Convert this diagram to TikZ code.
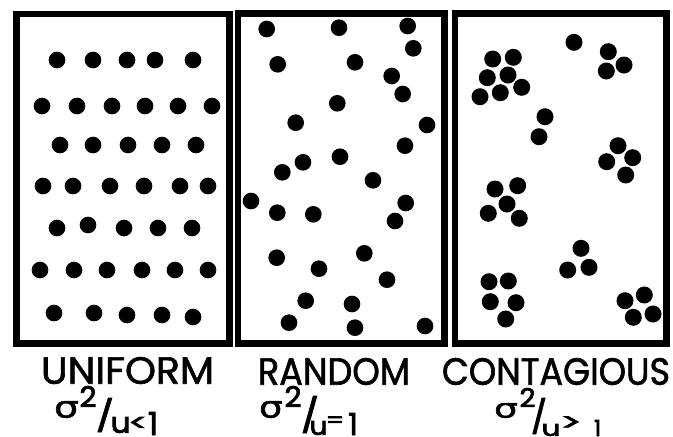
\documentclass[tikz,border=0pt]{standalone}
\usepackage{fontspec}
\setmainfont{Poppins}
\newfontfamily\titlefont{Poppins}[FakeBold=1.6]
\newfontfamily\formfont{Poppins}[FakeBold=2.6]
\newfontfamily\sigfont{DejaVu Sans}[FakeBold=1.5]
\newdimen\pxu \pxu=0.03cm
\newcommand{\fitglyph}[3]{\resizebox*{#1\pxu}{#2\pxu}{#3}}
\newcommand{\fith}[2]{\resizebox*{!}{#1\pxu}{#2}}
\begin{document}
\begin{tikzpicture}[x=0.03cm, y=-0.03cm,
  panel/.style={draw=black, line width=0.195cm},
  dotfill/.style={fill=black},
  lbl/.style={inner sep=0pt, outer sep=0pt, anchor=center}]
\useasboundingbox (0,0) rectangle (673,436);
\fill[white] (0,0) rectangle (673,436);
% panels
\draw[panel] (16.5,14) rectangle (229.5,343.5);
\draw[panel] (238,13.5) rectangle (444.5,343.5);
\draw[panel] (455,13.5) rectangle (666.5,343.5);
% uniform
\foreach \x/\y in {57/60,93/60,127/60,155/60,193/60,
  42/106,77/106,112/106,145/106,178/106,212/106,
  60/145,93/145,128/145,162/145,196/145,
  43/186,73/186,110/186,144/186,180/186,208/186,
  57/228,88/225,124/228,158/228,192/228,
  40/270,74/270,107/270,142/270,175/270,208/270,
  54/313,94/313,127/315,162/315,193/317}
  \fill[dotfill] (\x,\y) circle[radius=0.25cm];
% random
\foreach \x/\y in {266.7/29,339/27.7,407.7/26,413.3/48.3,277.7/64.3,355/62.3,
  391.7/76,402.7/94,337.3/103.3,295.7/122.7,427/125,405/145.7,303/162.3,
  282.3/172.3,340/156.7,373/180.3,251/201,277.3/212.7,313.3/214.3,405.7/203,
  395/221,276.7/257.7,364.3/253.3,319/268.7,387/279.7,305.7/300.7,352/304,
  289/322.7,355/327.7,425/326}
  \fill[dotfill] (\x,\y) circle[radius=0.25cm];
% contagious
\foreach \x/\y in {492.7/59,513.3/57.3,487.3/77.7,508/75,521.7/87.3,480/96.7,500.3/92.7,
  574/42.3,
  608.3/51.7,624/65,606.3/71,
  545/116.7,539/136.7,
  618/145.7,632.7/157.7,606.7/161.7,625.7/175,
  495/189,517.7/185.7,507/204,488.3/213.3,519.3/218.3,
  581/248.3,567.7/270,589/267.3,
  489/281.7,508.3/281,490.3/301.7,516/302.7,505.7/319,
  625/300.7,644.3/295,633.3/317.3,653/314}
  \fill[dotfill] (\x,\y) circle[radius=0.255cm];
% titles
\node[lbl] (t1) at (127.5,370.5) {\fitglyph{173}{27}{\titlefont UNIFORM}};
\node[lbl] (t2) at (334,371.5) {\fitglyph{152}{27}{\titlefont RANDOM}};
\node[lbl] (t3) at (556,371.5) {\fitglyph{228}{27}{\titlefont CONTAGIOUS}};
% formula 1
\node[lbl] (s1) at (66.5,409.5) {\fitglyph{25}{17}{\sigfont σ}};
\node[lbl] (e1) at (88,396.5) {\fitglyph{17}{21}{\formfont 2}};
\node[lbl] (sl1) at (105,415) {\fitglyph{18}{34}{\formfont /}};
\node[lbl] (u1) at (120.5,425) {\fitglyph{20}{16}{\formfont u}};
\node[lbl] (r1) at (138,424) {\fitglyph{20}{14}{\formfont <}};
\node[lbl] (o1) at (153,423.5) {\fith{23}{\formfont 1}};
% formula 2
\node[lbl] (s2) at (271,409.5) {\fitglyph{24}{17}{\sigfont σ}};
\node[lbl] (e2) at (293,396.5) {\fitglyph{17}{21}{\formfont 2}};
\node[lbl] (sl2) at (310,414.5) {\fitglyph{18}{37}{\formfont /}};
\node[lbl] (u2) at (318.5,428) {\fitglyph{18}{14}{\formfont u}};
\node[lbl] (r2) at (335,422) {\fitglyph{19}{11}{\formfont =}};
\node[lbl] (o2) at (353,424) {\fith{22}{\formfont 1}};
% formula 3
\node[lbl] (s3) at (506,410.5) {\fitglyph{24}{15}{\sigfont σ}};
\node[lbl] (e3) at (527.5,397.5) {\fitglyph{16}{19}{\formfont 2}};
\node[lbl] (sl3) at (539,416) {\fitglyph{16}{36}{\formfont /}};
\node[lbl] (u3) at (551,430) {\fitglyph{19}{12}{\formfont u}};
\node[lbl] (r3) at (571,423.5) {\fitglyph{22}{14}{\formfont >}};
\node[lbl] (o3) at (597.5,428) {\fith{16}{\formfont 1}};
\end{tikzpicture}
\end{document}
